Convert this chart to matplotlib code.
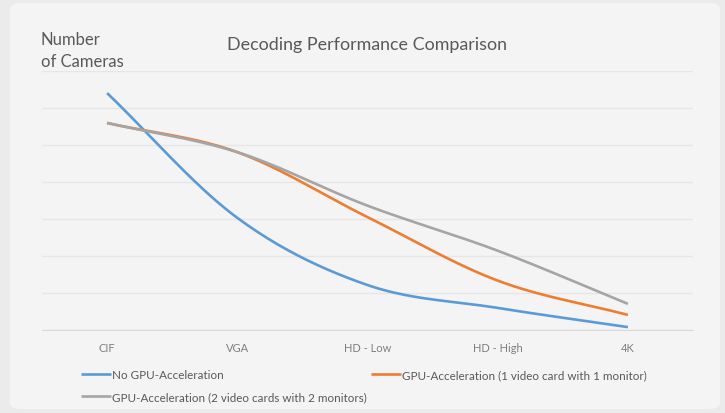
import numpy as np
import matplotlib.pyplot as plt
from matplotlib.patches import FancyBboxPatch

# data (units = gridline steps)
categories = ['CIF', 'VGA', 'HD - Low', 'HD - High', '4K']
no_gpu = [6.41, 3.03, 1.21, 0.59, 0.07]
gpu_1card = [5.60, 4.81, 3.05, 1.33, 0.40]
gpu_2cards = [5.60, 4.81, 3.36, 2.14, 0.70]

labels = ['No GPU-Acceleration',
          'GPU-Acceleration (1 video card with 1 monitor)',
          'GPU-Acceleration (2 video cards with 2 monitors)']
colors = ['#5B9BD5', '#ED7D31', '#A5A5A5']

plt.rcParams['font.family'] = ['Lato', 'DejaVu Sans']


def smooth(xs, ys, n=40):
    # catmull-rom through the points, like excel's smoothed line
    p = np.column_stack([xs, ys]).astype(float)
    p = np.vstack([2 * p[0] - p[1], p, 2 * p[-1] - p[-2]])
    out = []
    t = np.linspace(0, 1, n)[:, None]
    for i in range(1, len(p) - 2):
        p0, p1, p2, p3 = p[i - 1], p[i], p[i + 1], p[i + 2]
        seg = 0.5 * ((2 * p1) + (-p0 + p2) * t
                     + (2 * p0 - 5 * p1 + 4 * p2 - p3) * t ** 2
                     + (-p0 + 3 * p1 - 3 * p2 + p3) * t ** 3)
        out.append(seg if i == 1 else seg[1:])
    out = np.vstack(out)
    return out[:, 0], out[:, 1]


fig = plt.figure(figsize=(7.25, 4.14), dpi=100)
fig.patch.set_facecolor('#ebebeb')
card = FancyBboxPatch((10 / 725, 4 / 414), 710 / 725, 406 / 414,
                      boxstyle='round,pad=0,rounding_size=0.015',
                      transform=fig.transFigure, facecolor='#f4f4f4',
                      edgecolor='none', zorder=-5)
fig.patches.append(card)

ax = fig.add_axes([42 / 725, 83.3 / 414, 651 / 725, 258.4 / 414])
ax.set_facecolor('none')
ax.set_zorder(2)

x = np.arange(len(categories))
for vals, lab, col in zip([no_gpu, gpu_1card, gpu_2cards], labels, colors):
    sx, sy = smooth(x, vals)
    ax.plot(sx, sy, color=col, lw=1.9, label=lab, solid_capstyle='butt')

ax.set_xlim(-0.5, len(categories) - 0.5)
ax.set_ylim(0, 7)
ax.set_yticks(np.arange(0, 8))
ax.set_yticklabels([])
ax.grid(axis='y', color='#e6e6e6', lw=1)
ax.set_axisbelow(True)
ax.set_xticks(x)
ax.set_xticklabels(categories, color='#7f7f7f', fontsize=8)
ax.tick_params(axis='both', length=0, pad=8.5)
for s in ['top', 'right', 'left']:
    ax.spines[s].set_visible(False)
ax.spines['bottom'].set_color('#d9d9d9')

fig.text(367 / 725, 1 - 45 / 414, 'Decoding Performance Comparison',
         ha='center', va='center', fontsize=12.9, color='#595959')
fig.text(41 / 725, 1 - 51 / 414, 'Number\nof Cameras', ha='left',
         va='center', fontsize=12, color='#595959', linespacing=1.4)

h, l = ax.get_legend_handles_labels()
order = [0, 2, 1]
fig.legend([h[i] for i in order], [l[i] for i in order], ncol=2,
           loc='upper left', bbox_to_anchor=(81 / 725, 1 - 370 / 414),
           frameon=False, fontsize=8.4, labelcolor='#595959',
           handlelength=2.6, handletextpad=0.1, columnspacing=0.3,
           labelspacing=0.95, borderaxespad=0, borderpad=0)

fig.savefig('out.png', dpi=100, facecolor=fig.get_facecolor())
